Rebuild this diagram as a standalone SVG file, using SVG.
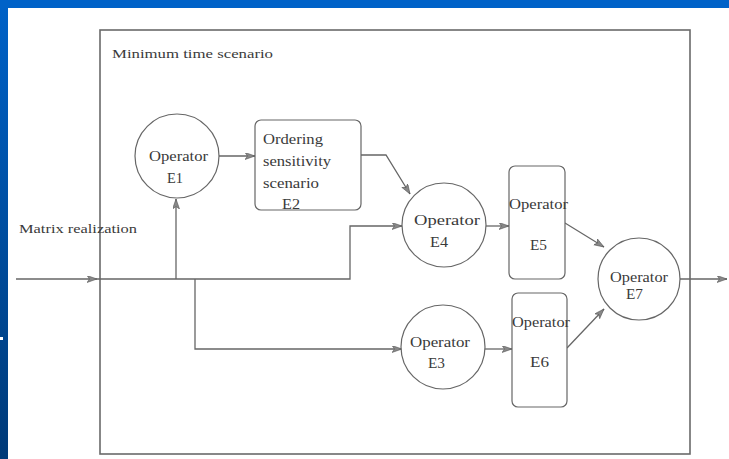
<svg xmlns="http://www.w3.org/2000/svg" width="729" height="459" viewBox="0 0 729 459">
<style>
text{font-family:'Liberation Serif','Times New Roman',Times,serif;font-size:14px;fill:#3a3a3a}
.ln{fill:none;stroke:#666;stroke-width:1.3}
.nd{fill:#fff;stroke:#666;stroke-width:1.2}
</style>
<defs>
<linearGradient id="bl" x1="0" y1="0" x2="0" y2="1">
<stop offset="0" stop-color="#0062c8"/>
<stop offset="1" stop-color="#003a78"/>
</linearGradient>
<marker id="ah" markerUnits="userSpaceOnUse" markerWidth="11" markerHeight="8" refX="10" refY="3.5" orient="auto" viewBox="0 0 11 8">
<path d="M0,0 L10,3.5 L0,7 L2.5,3.5 Z" fill="#888" stroke="#555" stroke-width="0.6"/>
</marker>
</defs>
<rect x="0" y="0" width="729" height="459" fill="#fff"/>
<rect x="0" y="0" width="8" height="459" fill="url(#bl)"/>
<rect x="0" y="0" width="729" height="8" fill="#0062c8"/>
<rect x="0" y="337" width="3" height="3" fill="#fff"/>
<g id="frame">
<rect x="100" y="30" width="590" height="424" fill="none" stroke="#6a6a6a" stroke-width="1.6"/>
<text x="112" y="58" style="font-size:13px" textLength="161" lengthAdjust="spacingAndGlyphs">Minimum time scenario</text>
</g>
<g id="connectors">
<path class="ln" d="M16,279 L97,279" marker-end="url(#ah)"/>
<path class="ln" d="M97,279 L350,279 L350,226 L402,226" marker-end="url(#ah)"/>
<path class="ln" d="M176,279 L176,199" marker-end="url(#ah)"/>
<path class="ln" d="M195,279 L195,349 L402,349" marker-end="url(#ah)"/>
<path class="ln" d="M219,156 L255,156" marker-end="url(#ah)"/>
<path class="ln" d="M361,155 L386,155 L410,194" marker-end="url(#ah)"/>
<path class="ln" d="M486,226 L509,226" marker-end="url(#ah)"/>
<path class="ln" d="M485,349 L512,349" marker-end="url(#ah)"/>
<path class="ln" d="M565,223 L604,247" marker-end="url(#ah)"/>
<path class="ln" d="M567,348 L604,309" marker-end="url(#ah)"/>
<path class="ln" d="M680,279 L727,279" marker-end="url(#ah)"/>
<text x="19" y="233" style="font-size:13px" textLength="118" lengthAdjust="spacingAndGlyphs">Matrix realization</text>
</g>
<g id="E1">
<circle class="nd" cx="177" cy="156" r="42"/>
<text x="149" y="161" textLength="59" lengthAdjust="spacingAndGlyphs">Operator</text>
<text x="167" y="183" textLength="16" lengthAdjust="spacingAndGlyphs">E1</text>
</g>
<g id="E2">
<rect class="nd" x="255" y="120" width="106" height="90" rx="6"/>
<text x="263" y="144" textLength="60" lengthAdjust="spacingAndGlyphs">Ordering</text>
<text x="263" y="166" textLength="68" lengthAdjust="spacingAndGlyphs">sensitivity</text>
<text x="263" y="188" textLength="56" lengthAdjust="spacingAndGlyphs">scenario</text>
<text x="282" y="209" textLength="18" lengthAdjust="spacingAndGlyphs">E2</text>
</g>
<g id="E4">
<circle class="nd" cx="444" cy="225" r="42"/>
<text x="414" y="225" textLength="66" lengthAdjust="spacingAndGlyphs">Operator</text>
<text x="430" y="247" textLength="18" lengthAdjust="spacingAndGlyphs">E4</text>
</g>
<g id="E5">
<rect class="nd" x="509" y="166" width="56" height="113" rx="6"/>
<text x="509" y="209" textLength="59" lengthAdjust="spacingAndGlyphs">Operator</text>
<text x="530" y="250" textLength="17" lengthAdjust="spacingAndGlyphs">E5</text>
</g>
<g id="E3">
<circle class="nd" cx="443" cy="347" r="42"/>
<text x="410" y="347" textLength="60" lengthAdjust="spacingAndGlyphs">Operator</text>
<text x="428" y="368" textLength="17" lengthAdjust="spacingAndGlyphs">E3</text>
</g>
<g id="E6">
<rect class="nd" x="512" y="293" width="55" height="114" rx="6"/>
<text x="512" y="327" textLength="58" lengthAdjust="spacingAndGlyphs">Operator</text>
<text x="530" y="367" textLength="19" lengthAdjust="spacingAndGlyphs">E6</text>
</g>
<g id="E7">
<circle class="nd" cx="639" cy="279" r="41"/>
<text x="610" y="282" textLength="58" lengthAdjust="spacingAndGlyphs">Operator</text>
<text x="626" y="299" textLength="17" lengthAdjust="spacingAndGlyphs">E7</text>
</g>
</svg>
